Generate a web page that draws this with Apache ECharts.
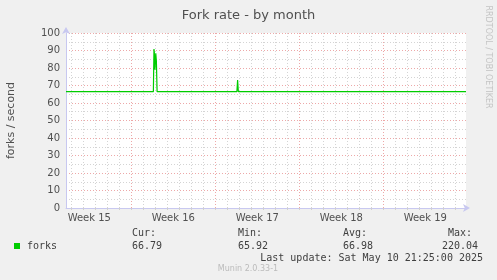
<!DOCTYPE html>
<html>
<head>
<meta charset="utf-8">
<script src="https://cdn.jsdelivr.net/npm/echarts@6/dist/echarts.min.js"></script>
<style>
html,body{margin:0;padding:0;background:#F0F0F0;}
#chart{width:497px;height:280px;}
</style>
</head>
<body>
<div id="chart"></div>
<script>
// x values: days since Sunday 2025-04-06 00:00
var xMin = 1.559;      // left edge of graph window
var xMax = 34.892;     // Sat May 10 21:25
var weekStarts = [7, 14, 21, 28];
var weekLabelPos = [3.5, 10.5, 17.5, 24.5, 31.5];
var weekLabels = ['Week 15', 'Week 16', 'Week 17', 'Week 18', 'Week 19'];
var dayLines = [2,3,4,5,6,7,8,9,10,11,12,13,14,15,16,17,18,19,20,21,22,23,24,25,26,27,28,29,30,31,32,33,34];
var yMinorLines = [5,15,25,35,45,55,65,75,85,95];

var dayOffsets = [1.559, 8.84, 8.89, 8.92, 8.97, 9.04, 9.09, 9.15, 9.20, 12.50, 12.56, 12.62, 15.80, 15.86, 15.92, 27.05, 27.11, 27.17, 34.892];
var forkRates  = [66.5,  66.5, 90.8, 89.0, 79.0, 88.4, 84.0, 66.5, 66.5, 66.5,  67.6,  66.5,  66.5,  73.1,  66.5,  66.5,  67.6,  66.5,  66.5];

var legendHeaders = ['Cur:', 'Min:', 'Avg:', 'Max:'];
var legendValues = ['66.79', '65.92', '66.98', '220.04'];
var seriesName = 'forks';
var lastUpdate = 'Last update: Sat May 10 21:25:00 2025';

var data = dayOffsets.map(function (d, i) { return [d, forkRates[i]]; });

var mono = '"DejaVu Sans Mono", monospace';
var sans = '"DejaVu Sans", sans-serif';
var chart = echarts.init(document.getElementById('chart'));

var headerX = [132, 238, 343, 448];
var valueX = [132, 238, 343, 442];
var graphics = [
  {type:'rect', shape:{x:14, y:243, width:6, height:6}, style:{fill:'#00CC00'}},
  {type:'text', x:27, y:246, style:{text:seriesName, font:'10px ' + mono, fill:'#404040', verticalAlign:'middle'}},
  {type:'text', x:483, y:258, style:{text:lastUpdate, font:'10px ' + mono, fill:'#404040', align:'right', verticalAlign:'middle'}},
  {type:'text', x:248, y:269, style:{text:'Munin 2.0.33-1', font:'8px ' + sans, fill:'#BBBBBB', align:'center', verticalAlign:'middle'}},
  {type:'text', x:488, y:57, rotation:-Math.PI/2, style:{text:'RRDTOOL / TOBI OETIKER', font:'8px ' + sans, fill:'#C4C4C4', align:'center', verticalAlign:'middle'}}
];
legendHeaders.forEach(function (h, i) {
  graphics.push({type:'text', x:headerX[i], y:233, style:{text:h, font:'10px ' + mono, fill:'#404040', verticalAlign:'middle'}});
  graphics.push({type:'text', x:valueX[i], y:246, style:{text:legendValues[i], font:'10px ' + mono, fill:'#404040', verticalAlign:'middle'}});
});

chart.setOption({
  backgroundColor: '#F0F0F0',
  animation: false,
  title: {
    text: 'Fork rate - by month',
    left: 'center', top: 4,
    textStyle: {fontFamily: sans, fontSize: 13, fontWeight: 'normal', color: '#505050'}
  },
  grid: {left: 66, top: 33, right: 31, bottom: 72, show: true, backgroundColor: '#FFFFFF', borderWidth: 0,
    containLabel: false, outerBoundsMode: 'none'},
  xAxis: [{
    type: 'value', min: xMin, max: xMax,
    axisLine: {show: true, lineStyle: {color: '#C8C8F0', width: 1}, symbol: ['none', 'arrow'], symbolSize: [6, 7], symbolOffset: [0, 4]},
    axisTick: {show: true, length: 2, customValues: dayLines, lineStyle: {color: '#D0D0D0'}},
    axisLabel: {customValues: weekLabelPos, margin: 5, fontFamily: sans, fontSize: 10, color: '#505050',
      formatter: function (v) { var i = weekLabelPos.indexOf(v); return i >= 0 ? weekLabels[i] : ''; }},
    splitLine: {show: true, lineStyle: {color: '#D4D4D4', type: [1, 2], width: 1}}
  }, {
    type: 'value', min: xMin, max: xMax, position: 'bottom',
    axisLine: {show: false},
    axisTick: {show: false, customValues: weekStarts},
    axisLabel: {show: false},
    splitLine: {show: true, lineStyle: {color: '#EDA8A8', type: [1, 2], width: 1}}
  }],
  yAxis: [{
    type: 'value', min: 0, max: 100, position: 'left',
    axisLine: {show: false},
    axisTick: {show: false, customValues: yMinorLines},
    axisLabel: {show: false},
    splitLine: {show: true, lineStyle: {color: '#D4D4D4', type: [1, 2], width: 1}}
  }, {
    type: 'value', min: 0, max: 100, interval: 10, position: 'left',
    name: 'forks / second', nameLocation: 'middle', nameGap: 49, nameRotate: 90,
    nameTextStyle: {fontFamily: sans, fontSize: 11, color: '#505050'},
    axisLine: {show: true, lineStyle: {color: '#C8C8F0', width: 1}, symbol: ['none', 'arrow'], symbolSize: [6, 7], symbolOffset: [0, 6]},
    axisTick: {show: false},
    axisLabel: {margin: 6, fontFamily: sans, fontSize: 10, color: '#505050'},
    splitLine: {show: true, lineStyle: {color: '#EDA8A8', type: [1, 2], width: 1}}
  }],
  series: [{
    type: 'line', name: seriesName, data: data, xAxisIndex: 0, yAxisIndex: 1,
    showSymbol: false, symbol: 'none',
    lineStyle: {color: '#00CC00', width: 1.2},
    z: 5
  }],
  graphic: graphics
});
</script>
</body>
</html>
